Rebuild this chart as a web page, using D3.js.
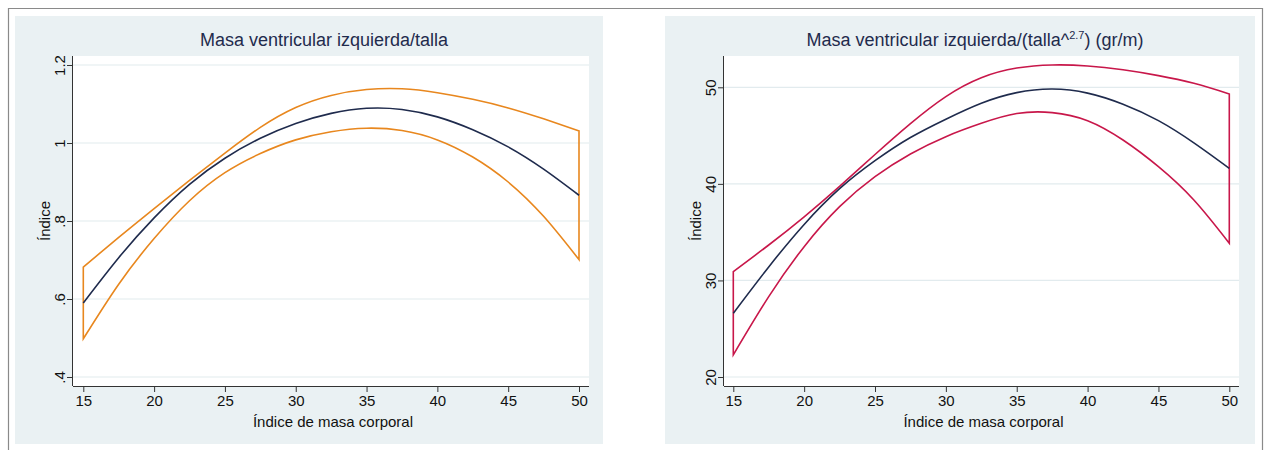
<!DOCTYPE html>
<html>
<head>
<meta charset="utf-8">
<script src="https://cdn.jsdelivr.net/npm/d3@7"></script>
<style>
  body { margin: 0; background: #fff; }
  svg { display: block; font-family: "Liberation Sans", Arial, sans-serif; }
</style>
</head>
<body>
<svg id="chart" width="1264" height="450"></svg>
<script>
// Índice de masa corporal (x) shared by both panels
var imc = [15, 17.5, 20, 22.5, 25, 27.5, 30, 32.5, 35, 37.5, 40, 42.5, 45, 47.5, 50];

// left panel: masa ventricular izquierda / talla
var tallaFit   = [0.590, 0.706, 0.808, 0.894, 0.961, 1.012, 1.050, 1.076, 1.089, 1.086, 1.067, 1.034, 0.990, 0.933, 0.866];
var tallaUpper = [0.682, 0.758, 0.832, 0.904, 0.974, 1.040, 1.091, 1.122, 1.137, 1.139, 1.129, 1.112, 1.090, 1.062, 1.031];
var tallaLower = [0.498, 0.638, 0.755, 0.852, 0.924, 0.973, 1.008, 1.029, 1.038, 1.032, 1.008, 0.964, 0.900, 0.812, 0.701];
var tallaTicks = [0.4, 0.6, 0.8, 1, 1.2];
var tallaTickLabels = [".4", ".6", ".8", "1", "1.2"];

// right panel: masa ventricular izquierda / talla^2.7
var t27Fit   = [26.60, 31.40, 35.80, 39.50, 42.40, 44.80, 46.70, 48.35, 49.45, 49.82, 49.40, 48.25, 46.55, 44.25, 41.61];
var t27Upper = [30.91, 33.67, 36.59, 39.74, 43.04, 46.24, 49.04, 50.99, 51.99, 52.31, 52.21, 51.81, 51.21, 50.41, 49.31];
var t27Lower = [22.29, 28.32, 33.50, 37.64, 40.75, 43.10, 44.89, 46.27, 47.28, 47.38, 46.54, 44.54, 41.78, 38.33, 33.85];
var t27Ticks = [20, 30, 40, 50];
var t27TickLabels = ["20", "30", "40", "50"];

var xTicks = [15, 20, 25, 30, 35, 40, 45, 50];

var bg = "#eaf1f3";
var gridColor = "#e2ebee";
var navy = "#1f2b4d";

var svg = d3.select("#chart");

// outer frame (no bottom edge visible)
svg.append("path")
    .attr("d", "M8.5,452 V8.5 H1262.5 V452")
    .attr("fill", "none")
    .attr("stroke", "#8a8a8a")
    .attr("stroke-width", 1.2);

var panels = [
  {
    bgX: 15, bgW: 588, plotL: 73, plotR: 589, xr: [83.3, 579],
    yDomain: [0.4, 1.2], yr: [377, 65],
    ticks: tallaTicks, tickLabels: tallaTickLabels,
    fit: tallaFit, upper: tallaUpper, lower: tallaLower,
    ci: "#e8871e", title: ["Masa ventricular izquierda/talla"], titleX: 324
  },
  {
    bgX: 665, bgW: 590, plotL: 724, plotR: 1239, xr: [733.3, 1229.3],
    yDomain: [20, 50], yr: [377, 87.3],
    ticks: t27Ticks, tickLabels: t27TickLabels,
    fit: t27Fit, upper: t27Upper, lower: t27Lower,
    ci: "#c8174a", title: ["Masa ventricular izquierda/(talla^", "2.7", ") (gr/m)"], titleX: 975
  }
];

var plotTop = 56, plotBottom = 386;

panels.forEach(function (p) {
  var g = svg.append("g");

  g.append("rect")
      .attr("x", p.bgX).attr("y", 16)
      .attr("width", p.bgW).attr("height", 428)
      .attr("fill", bg);

  g.append("rect")
      .attr("x", p.plotL).attr("y", plotTop)
      .attr("width", p.plotR - p.plotL).attr("height", plotBottom - plotTop)
      .attr("fill", "#fff");

  var x = d3.scaleLinear().domain([15, 50]).range(p.xr);
  var y = d3.scaleLinear().domain(p.yDomain).range(p.yr);

  // grid
  g.selectAll(".grid")
      .data(p.ticks)
      .enter().append("line")
      .attr("x1", p.plotL).attr("x2", p.plotR)
      .attr("y1", d => y(d)).attr("y2", d => y(d))
      .attr("stroke", gridColor)
      .attr("stroke-width", 1.2);

  // CI band outline: upper, down the right edge, lower back, closed
  var upPts = imc.map((v, i) => [x(v), y(p.upper[i])]);
  var lowPts = imc.map((v, i) => [x(v), y(p.lower[i])]).reverse();
  var line = d3.line().curve(d3.curveNatural);

  g.append("path")
      .attr("d", line(upPts) + "L" + lowPts[0].join(",") +
                 line(lowPts).replace(/^M[^C]*/, "") + "Z")
      .attr("fill", "none")
      .attr("stroke", p.ci)
      .attr("stroke-width", 1.6);

  g.append("path")
      .attr("d", line(imc.map((v, i) => [x(v), y(p.fit[i])])))
      .attr("fill", "none")
      .attr("stroke", navy)
      .attr("stroke-width", 1.6);

  // axes
  var xAxis = d3.axisBottom(x).tickValues(xTicks).tickSize(6).tickSizeOuter(0).tickPadding(3);
  var gx = g.append("g")
      .attr("transform", "translate(0," + plotBottom + ")")
      .call(xAxis);
  gx.select(".domain").attr("d", "M" + p.plotL + ",0.5H" + p.plotR).attr("stroke", "#333");
  gx.selectAll(".tick line").attr("stroke", "#333");
  gx.selectAll("text").attr("font-size", 15).attr("fill", "#111")
      .attr("font-family", "Liberation Sans, Arial, sans-serif");

  var yAxis = d3.axisLeft(y).tickValues(p.ticks).tickSize(6).tickSizeOuter(0)
      .tickFormat((d, i) => p.tickLabels[i]);
  var gy = g.append("g")
      .attr("transform", "translate(" + p.plotL + ",0)")
      .call(yAxis);
  gy.select(".domain").attr("d", "M-0.5," + plotTop + "V" + plotBottom).attr("stroke", "#333");
  gy.selectAll(".tick line").attr("stroke", "#333");
  gy.selectAll("text")
      .attr("font-size", 15).attr("fill", "#111")
      .attr("font-family", "Liberation Sans, Arial, sans-serif")
      .attr("x", null).attr("dy", null)
      .attr("text-anchor", "middle")
      .attr("transform", "translate(-8,0) rotate(-90)");

  // axis titles
  g.append("text")
      .attr("x", (p.plotL + p.plotR) / 2 + 2)
      .attr("y", 427)
      .attr("text-anchor", "middle")
      .attr("font-size", 15)
      .attr("fill", "#111")
      .text("Índice de masa corporal");

  g.append("text")
      .attr("transform", "translate(" + (p.plotL - 23) + "," + ((plotTop + plotBottom) / 2) + ") rotate(-90)")
      .attr("text-anchor", "middle")
      .attr("font-size", 15)
      .attr("fill", "#111")
      .text("Índice");

  // title
  var t = g.append("text")
      .attr("x", p.titleX)
      .attr("y", 46)
      .attr("text-anchor", "middle")
      .attr("font-size", 18)
      .attr("fill", navy);
  t.append("tspan").text(p.title[0]);
  if (p.title.length > 1) {
    t.append("tspan").attr("font-size", 11).attr("dy", -7).text(p.title[1]);
    t.append("tspan").attr("dy", 7).text(p.title[2]);
  }
});
</script>
</body>
</html>
